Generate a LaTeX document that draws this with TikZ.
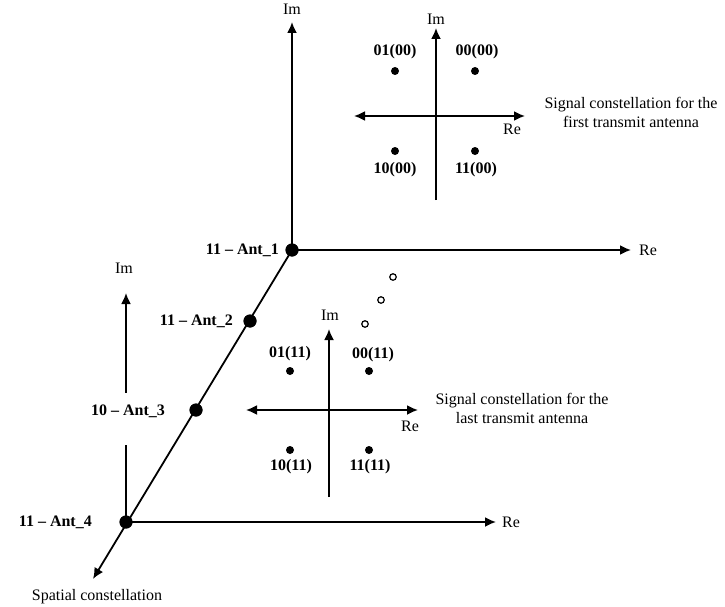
\documentclass[tikz,border=0pt]{standalone}
\usepackage{fontspec}
\setmainfont{Liberation Serif}
\usetikzlibrary{arrows.meta}
\begin{document}
\begin{tikzpicture}[x=1pt,y=-1pt,
  ax/.style={line width=1.8pt,-{Latex[length=11pt,width=10pt]}},
  dax/.style={line width=1.8pt,{Latex[length=11pt,width=10pt]}-{Latex[length=11pt,width=10pt]}},
  bigdot/.style={circle,fill=black,inner sep=0pt,minimum size=13pt},
  sdot/.style={circle,fill=black,inner sep=0pt,minimum size=8pt},
  odot/.style={circle,draw=black,line width=1.2pt,fill=white,inner sep=0pt,minimum size=6.5pt},
  lbl/.style={font=\fontsize{16}{18}\selectfont\bfseries,inner sep=1pt},
  txt/.style={font=\fontsize{16}{19}\selectfont,inner sep=1pt,align=center}]
\useasboundingbox (0,0) rectangle (725,607);
% spatial axes
\node[bigdot] (a1) at (292,250) {};
\node[bigdot] (a2) at (250,321) {};
\node[bigdot] (a3) at (196,410) {};
\node[bigdot] (a4) at (126,522) {};
\coordinate (imtop) at (292,22);
\coordinate (retop) at (631,250);
\coordinate (spat) at (93,579);
\coordinate (imbot) at (126,293);
\coordinate (rebot) at (496,522);
\draw[ax] (a1.center) -- (imtop);
\draw[ax] (a1.center) -- (retop);
\draw[ax] (a1.center) -- (spat);
\draw[ax] (a4.center) -- (imbot);
\draw[ax] (a4.center) -- (rebot);
\node[bigdot] at (a1) {};
\node[bigdot] at (a2) {};
\node[bigdot] at (a3) {};
\node[bigdot] at (a4) {};
\node[txt] (imt) at (292,9) {Im};
\node[txt] (ret) at (648,250) {Re};
\node[txt] (imb) at (124,268) {Im};
\node[txt] (reb) at (511,522) {Re};
\node[lbl,anchor=east] (l1) at (280,250) {11 – Ant\_1};
\node[lbl,anchor=east] (l2) at (234,321) {11 – Ant\_2};
\node[lbl,fill=white,minimum height=52pt,text height=12pt,text depth=19pt] (l3) at (128,419) {10 – Ant\_3};
\node[lbl,anchor=east] (l4) at (93,522) {11 – Ant\_4};
\node[txt] (sp) at (97,597) {Spatial constellation};
% top constellation
\coordinate (tu) at (436,28);
\coordinate (td) at (436,200);
\coordinate (tl) at (354,116);
\coordinate (tr) at (525,116);
\draw[ax] (td) -- (tu);
\draw[dax] (tl) -- (tr);
\node[txt] (tim) at (436,19) {Im};
\node[txt] (tre) at (512,129) {Re};
\node[sdot] (d1) at (395,71) {};
\node[sdot] (d2) at (475,71) {};
\node[sdot] (d3) at (395,151) {};
\node[sdot] (d4) at (475,151) {};
\node[lbl] at (395,52) {01(00)};
\node[lbl] at (477,52) {00(00)};
\node[lbl] at (395,170) {10(00)};
\node[lbl] at (476,170) {11(00)};
\node[txt] at (631,112) {Signal constellation for the\\first transmit antenna};
% bottom constellation
\coordinate (bu) at (329,329);
\coordinate (bd) at (329,497);
\coordinate (bl) at (246,410);
\coordinate (br) at (418,410);
\draw[ax] (bd) -- (bu);
\draw[dax] (bl) -- (br);
\node[txt] (bim) at (330,315) {Im};
\node[txt] (bre) at (410,426) {Re};
\node[sdot] (e1) at (290,371) {};
\node[sdot] (e2) at (369,371) {};
\node[sdot] (e3) at (290,450) {};
\node[sdot] (e4) at (369,450) {};
\node[lbl] at (290,354) {01(11)};
\node[lbl] at (373,355) {00(11)};
\node[lbl] at (291,467) {10(11)};
\node[lbl] at (370,467) {11(11)};
\node[txt] at (522,408) {Signal constellation for the\\last transmit antenna};
% ellipsis circles
\node[odot] (o1) at (393,277) {};
\node[odot] (o2) at (381,300) {};
\node[odot] (o3) at (365,324) {};
\end{tikzpicture}
\end{document}
